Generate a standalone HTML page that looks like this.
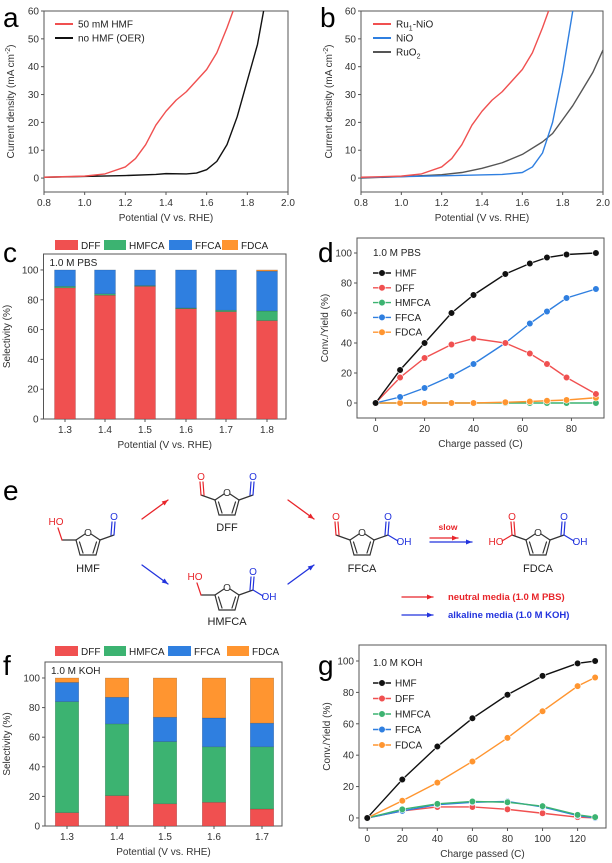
<!DOCTYPE html>
<html><head><meta charset="utf-8">
<style>
html,body{margin:0;padding:0;background:#fff;overflow:hidden;width:612px;height:863px;}
svg{display:block;font-family:"Liberation Sans",sans-serif;}
</style></head>
<body>
<svg id="fig" width="612" height="863" viewBox="0 0 612 863" xmlns="http://www.w3.org/2000/svg"></svg>
<script>
// ---------- data ----------
const aX = [0.8,1.0,1.1,1.2,1.25,1.3,1.35,1.4,1.45,1.5,1.55,1.6,1.65,1.7,1.73];
const aHMF = [0.3,0.7,1.5,4,7,12,19,24,28,31,35,39,45,54,60];
const aOERx = [0.8,1.0,1.2,1.35,1.4,1.5,1.55,1.6,1.65,1.7,1.75,1.8,1.85,1.88];
const aOER = [0.3,0.6,0.9,1.3,1.6,1.5,1.8,3,6,12,22,35,48,60];
const bNiOx = [0.8,1.2,1.5,1.6,1.65,1.7,1.75,1.8,1.85];
const bNiO = [0.2,0.8,1.3,2,4,9,20,38,60];
const bRuOx = [0.8,1.0,1.2,1.3,1.4,1.5,1.6,1.7,1.75,1.8,1.85,1.9,1.95,2.0];
const bRuO = [0,0.5,1.2,2,3.5,5.5,8.5,13,16,21,26,32,38,46];
const cCats = ['1.3','1.4','1.5','1.6','1.7','1.8'];
const cDFF = [88,83,89,74,72,66];
const cHMFCA = [1,1,0.5,0.5,1,6.5];
const cFFCA = [11,16,10.5,25.5,27,26.7];
const cFDCA = [0,0,0,0,0,0.8];
const dX = [0,10,20,31,40,53,63,70,78,90];
const dHMF = [0,22,40,60,72,86,93,97,99,100];
const dDFF = [0,17,30,39,43,40,33,26,17,6];
const dHMFCA = [0,0,0,0,0,0,0,0,0,0];
const dFFCA = [0,4,10,18,26,40,53,61,70,76];
const dFDCA = [0,0,0,0,0,0.5,1,1.5,2,3.5];
const fCats = ['1.3','1.4','1.5','1.6','1.7'];
const fDFF = [9,20.5,15,16,11.5];
const fHMFCA = [75,48.5,42,37.5,42];
const fFFCA = [13,18,16.5,19.5,16];
const fFDCA = [3,13,26.5,27,30.5];
const gX = [0,20,40,60,80,100,120,130];
const gHMF = [0,24.5,45.5,63.5,78.5,90.5,98.5,100];
const gDFF = [0,4.5,7,7,5.5,3,0.5,0];
const gHMFCA = [0,5.5,9,10.5,10,7.5,2,0.5];
const gFFCA = [0,4.5,8.5,10,10.5,7,1.5,0];
const gFDCA = [0,11,22.5,36,51,68,84,89.5];

const RED='#f05050', GREEN='#3cb371', BLUE='#2f7fe0', ORANGE='#ff9530', BLACK='#111';
const NS='http://www.w3.org/2000/svg';
const svg=document.getElementById('fig');
function el(tag, attrs, parent){const e=document.createElementNS(NS,tag);for(const k in attrs)e.setAttribute(k,attrs[k]);(parent||svg).appendChild(e);return e;}
function txt(x,y,s,attrs,parent){const t=el('text',Object.assign({x:x,y:y},attrs||{}),parent);t.textContent=s;return t;}
function lin(d0,d1,r0,r1){return v=>r0+(v-d0)/(d1-d0)*(r1-r0);}

function axes(g,L,R,T,B,sx,sy,xt,yt,xfmt,xtitle,ytitle,ytx){
  const f=el('rect',{x:L,y:T,width:R-L,height:B-T,fill:'none',stroke:'#555','stroke-width':1},g);
  
  
  xt.forEach(v=>{const x=sx(v);el('line',{x1:x,x2:x,y1:B,y2:B+3,stroke:'#555'},g);
    const t=txt(x,B+14,xfmt(v),{'font-size':10,'text-anchor':'middle',fill:'#333'},g);
    
    });
  yt.forEach(v=>{const y=sy(v);el('line',{x1:L-3,x2:L,y1:y,y2:y,stroke:'#555'},g);
    const t=txt(L-5,y+3.5,String(v),{'font-size':10,'text-anchor':'end',fill:'#333'},g);
    
    });
  const xtl=txt((L+R)/2,B+29,xtitle,{'font-size':10,'text-anchor':'middle',fill:'#333'},g);
  
  
  const cy=(T+B)/2;
  const ytl=el('text',{x:ytx,y:cy,'font-size':10,'text-anchor':'middle',fill:'#333',transform:`rotate(-90 ${ytx} ${cy})`},g);
  ytl.innerHTML=ytitle;
  
  
}
function letter(x,y,s){const t=txt(x,y,s,{'font-size':28,fill:'#000'});
  
  }
function curve(g,xs,ys,sx,sy,color,name){
  const p=el('polyline',{points:xs.map((x,i)=>sx(x)+','+sy(ys[i])).join(' '),fill:'none',stroke:color,'stroke-width':1.4,'stroke-linejoin':'round'},g);
  
  
}
function lineLegend(g,x,y,color,label,html){
  el('line',{x1:x,x2:x+18,y1:y,y2:y,stroke:color,'stroke-width':2},g);
  const t=el('text',{x:x+23,y:y+3.5,'font-size':10,fill:'#222'},g);
  if(html)t.innerHTML=label;else t.textContent=label;
  
  
}
const yt60=[0,10,20,30,40,50,60], xtV=[0.8,1.0,1.2,1.4,1.6,1.8,2.0];
const YT='Current density (mA cm<tspan dy="-4" font-size="7">-2</tspan><tspan dy="4">)</tspan>';

// ---------- panel a ----------
const ga=el('g',{});


const sxa=lin(0.8,2.0,44,288), sya=lin(-5,60,192,11);
axes(ga,44,288,11,192,sxa,sya,xtV,yt60,v=>v.toFixed(1),'Potential (V vs. RHE)',YT,14);
curve(ga,aOERx,aOER,sxa,sya,BLACK,'line-no-hmf');
curve(ga,aX,aHMF,sxa,sya,RED,'line-50mm-hmf');
lineLegend(ga,55,24,RED,'50 mM HMF');
lineLegend(ga,55,38,BLACK,'no HMF (OER)');
letter(3,27,'a');

// ---------- panel b ----------
const gb=el('g',{});


const sxb=lin(0.8,2.0,361,603);
axes(gb,361,603,11,192,sxb,sya,xtV,yt60,v=>v.toFixed(1),'Potential (V vs. RHE)',YT,332);
curve(gb,bRuOx,bRuO,sxb,sya,'#555','line-ruo2');
curve(gb,bNiOx,bNiO,sxb,sya,BLUE,'line-nio');
curve(gb,aX,aHMF,sxb,sya,RED,'line-ru1-nio');
lineLegend(gb,373,24,RED,'Ru<tspan font-size="7" dy="3">1</tspan><tspan dy="-3">-NiO</tspan>',true);
lineLegend(gb,373,38,BLUE,'NiO');
lineLegend(gb,373,52,'#555','RuO<tspan font-size="7" dy="3">2</tspan>',true);
letter(320,27,'b');

// ---------- stacked bars ----------
function stacked(g,cats,series,colors,names,L,R,T,B,ymax,cxs,bw,label,legendRects,ly){
  const sy=lin(0,ymax,B,T);
  axes(g,L,R,T,B,i=>cxs[i],sy,cats.map((c,i)=>i),[0,20,40,60,80,100],i=>cats[i],'Potential (V vs. RHE)','Selectivity (%)',10);
  cats.forEach((c,i)=>{let acc=0;
    series.forEach((s,k)=>{const v=s[i];if(v<=0)return;
      const r=el('rect',{x:cxs[i]-bw/2,y:sy(acc+v),width:bw,height:sy(acc)-sy(acc+v),fill:colors[k],stroke:'rgba(0,0,0,0.25)','stroke-width':0.5},g);
      
      
      acc+=v;});});
  const t=txt(L+6,T+12,label,{'font-size':10,fill:'#222'},g);
  
  
  names.forEach((n,k)=>{const lr=legendRects[k];
    el('rect',{x:lr[0],y:ly,width:lr[1]-lr[0],height:10,fill:colors[k]},g);
    const lt=txt(lr[1]+3,ly+9,n,{'font-size':10,fill:'#222'},g);
    
    });
}
const gc=el('g',{});


stacked(gc,cCats,[cDFF,cHMFCA,cFFCA,cFDCA],[RED,GREEN,BLUE,ORANGE],['DFF','HMFCA','FFCA','FDCA'],43.5,286,254,419,110.7,[65,105,145,186,226,267],21,'1.0 M PBS',[[55,78],[104,126],[169,192],[222,238]],240);
letter(3,262,'c');

const gf=el('g',{});


stacked(gf,fCats,[fDFF,fHMFCA,fFFCA,fFDCA],[RED,GREEN,BLUE,ORANGE],['DFF','HMFCA','FFCA','FDCA'],45,282,662,826,110.8,[67,117,165,214,262],23.5,'1.0 M KOH',[[55,78],[104,126],[168,191],[227,249]],646);
letter(3,675,'f');

// ---------- line charts ----------
function lineChart(g,xs,seriesArr,colors,names,L,R,T,B,xd,yd,xt){
  const sx=lin(xd[0],xd[1],L,R), sy=lin(yd[0],yd[1],B,T);
  axes(g,L,R,T,B,sx,sy,xt,[0,20,40,60,80,100],v=>String(v),'Charge passed (C)','Conv./Yield (%)',L-29);
  seriesArr.forEach((s,k)=>{
    const p=el('polyline',{points:xs.map((x,i)=>sx(x)+','+sy(s[i])).join(' '),fill:'none',stroke:colors[k],'stroke-width':1.4},g);
    
    
    xs.forEach((x,i)=>{const c=el('circle',{cx:sx(x),cy:sy(s[i]),r:3.3,fill:colors[k],stroke:'#fff','stroke-width':0.6},g);
      
      });
  });
}
function orderedLegend(g,lx,ly0,step,label){
  const names=['HMF','DFF','HMFCA','FFCA','FDCA'], cols=[BLACK,RED,GREEN,BLUE,ORANGE];
  const t=txt(lx,ly0-17,label,{'font-size':10,fill:'#222'},g);
  
  
  names.forEach((n,k)=>{const y=ly0+k*step;
    el('line',{x1:lx,x2:lx+18,y1:y,y2:y,stroke:cols[k],'stroke-width':1.4},g);
    el('circle',{cx:lx+9,cy:y,r:3.3,fill:cols[k],stroke:'#fff','stroke-width':0.6},g);
    const lt=txt(lx+22,y+3.5,n,{'font-size':10,fill:'#222'},g);
    
    });
}
const gd=el('g',{});


lineChart(gd,dX,[dHMFCA,dFDCA,dFFCA,dDFF,dHMF],[GREEN,ORANGE,BLUE,RED,BLACK],['HMFCA','FDCA','FFCA','DFF','HMF'],357,604,238,418,[-7.6,93.3],[-10,110],[0,20,40,60,80]);
orderedLegend(gd,373,273,14.8,'1.0 M PBS');
letter(318,262,'d');

const gg=el('g',{});


lineChart(gg,gX,[gDFF,gFFCA,gHMFCA,gFDCA,gHMF],[RED,BLUE,GREEN,ORANGE,BLACK],['DFF','FFCA','HMFCA','FDCA','HMF'],359,606,645,828,[-4.7,136.2],[-6.4,110.2],[0,20,40,60,80,100,120]);
orderedLegend(gg,373,683,15.5,'1.0 M KOH');
letter(318,675,'g');

// ---------- panel e scheme ----------
const ge=el('g',{'stroke-linecap':'round'});


letter(3,500,'e');
const MR='#e8252a', MB='#2233dd', MG='#333';
function seg(x1,y1,x2,y2,c,w){el('line',{x1,y1,x2,y2,stroke:c||MG,'stroke-width':w||1.2},ge);}
function lbl(x,y,s,c,anchor,fs){txt(x,y,s,{'font-size':fs||10,fill:c,'text-anchor':anchor||'middle'},ge);}
function furan(cx,cy){
  const O=[cx,cy-11],C2=[cx-12,cy-3],C3=[cx-8,cy+12],C4=[cx+8,cy+12],C5=[cx+12,cy-3];
  seg(C2[0],C2[1],O[0]-3,O[1]+2);seg(O[0]+3,O[1]+2,C5[0],C5[1]);
  seg(C2[0],C2[1],C3[0],C3[1]);seg(C3[0],C3[1],C4[0],C4[1]);seg(C4[0],C4[1],C5[0],C5[1]);
  seg(C2[0]+3.5,C2[1]+2,C3[0]+3,C3[1]-2);seg(C5[0]-3.5,C5[1]+2,C4[0]-3,C4[1]-2);
  lbl(cx,cy-7,'O',MG);
}
function cho(cx,cy,side,c){const s=side;seg(cx+12*s,cy-3,cx+26*s,cy-8);
  seg(cx+26*s,cy-8,cx+27*s,cy-21,c);seg(cx+23*s,cy-8,cx+24*s,cy-21,c);lbl(cx+26*s,cy-23,'O',c);}
function cooh(cx,cy,side,c){cho(cx,cy,side,c);seg(cx+26*side,cy-8,cx+36*side,cy-2,c);
  lbl(cx+42*side,cy+2,side>0?'OH':'HO',c);}
function ch2oh(cx,cy,side,c){seg(cx+12*side,cy-3,cx+26*side,cy-3);seg(cx+26*side,cy-3,cx+30*side,cy-15,c);
  lbl(cx+32*side,cy-18,side>0?'OH':'HO',c);}
furan(88,543);ch2oh(88,543,-1,MR);cho(88,543,1,MB);lbl(88,572,'HMF','#222','middle',11);
furan(227,503);cho(227,503,-1,MR);cho(227,503,1,MB);lbl(227,531,'DFF','#222','middle',11);
furan(227,598);ch2oh(227,598,-1,MR);cooh(227,598,1,MB);lbl(227,625,'HMFCA','#222','middle',11);
furan(362,543);cho(362,543,-1,MR);cooh(362,543,1,MB);lbl(362,572,'FFCA','#222','middle',11);
furan(538,543);cooh(538,543,-1,MR);cooh(538,543,1,MB);lbl(538,572,'FDCA','#222','middle',11);
function arrow(x1,y1,x2,y2,c){seg(x1,y1,x2,y2,c,1.3);const a=Math.atan2(y2-y1,x2-x1);
  el('polygon',{points:`${x2},${y2} ${x2-6*Math.cos(a)+2.5*Math.sin(a)},${y2-6*Math.sin(a)-2.5*Math.cos(a)} ${x2-6*Math.cos(a)-2.5*Math.sin(a)},${y2-6*Math.sin(a)+2.5*Math.cos(a)}`,fill:c},ge);}
arrow(142,519,168,500,MR);arrow(142,565,168,584,MB);
arrow(288,500,314,519,MR);arrow(288,584,314,565,MB);
arrow(430,538,458,538,MR);arrow(430,542,472,542,MB);
txt(448,530,'slow',{'font-size':8.5,'font-weight':'bold',fill:MR,'text-anchor':'middle'},ge);
arrow(402,597,433,597,MR);arrow(402,615,433,615,MB);
const n1=txt(448,600,'neutral media (1.0 M PBS)',{'font-size':9.5,'font-weight':'bold',fill:MR},ge);


const n2=txt(448,618,'alkaline media (1.0 M KOH)',{'font-size':9.5,'font-weight':'bold',fill:MB},ge);


</script>
</body></html>
